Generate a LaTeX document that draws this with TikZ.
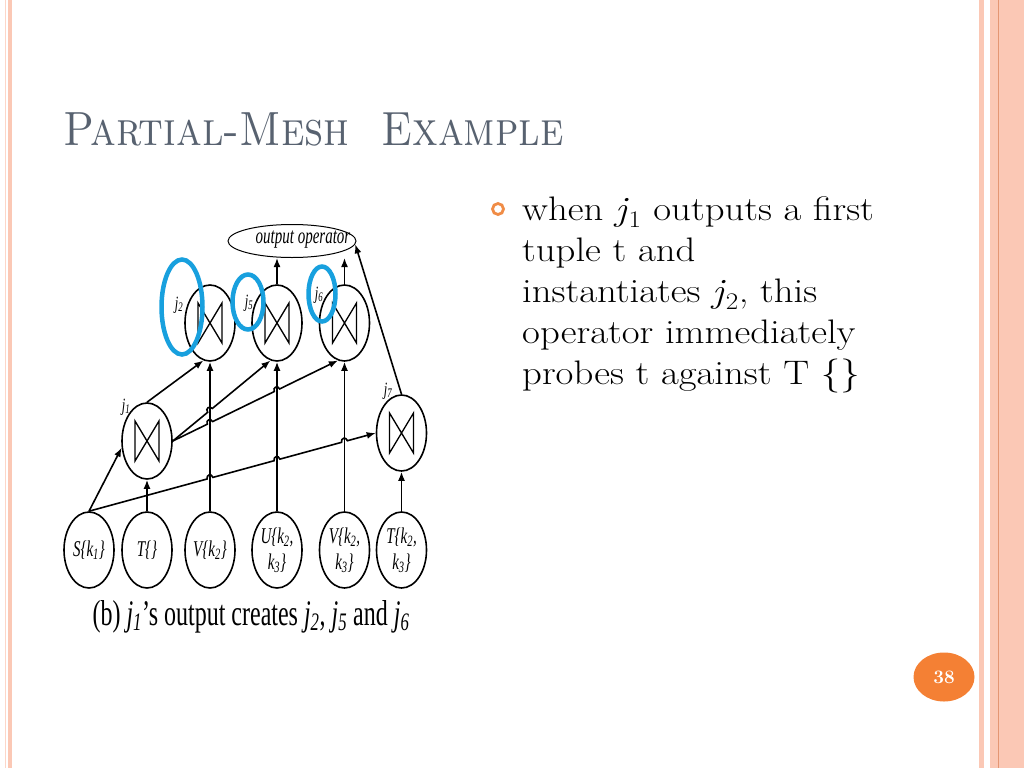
\documentclass[tikz,border=0pt]{standalone}
\usepackage{fontspec}
\newfontfamily\tnr{Liberation Serif}
\usetikzlibrary{shapes.geometric,arrows.meta,calc}
\definecolor{titlegray}{RGB}{88,98,112}
\definecolor{salm}{RGB}{251,200,181}
\definecolor{salmlight}{RGB}{252,214,200}
\definecolor{salmdark}{RGB}{228,150,115}
\definecolor{pageorange}{RGB}{244,128,52}
\definecolor{bulletorange}{RGB}{240,140,70}
\definecolor{hlblue}{RGB}{24,160,222}
\newcommand\vs[1]{\scalebox{1}[1.5]{#1}}
\newcommand\hs[1]{\scalebox{1.14}[1]{#1}}
\newcommand\hop[4]{%
  \coordinate (#1) at (intersection of #2--#3 and #4);
  \coordinate (#1a) at ($(#1)!3pt!(#2)$);
  \coordinate (#1b) at ($(#1)!3pt!(#3)$);}
\begin{document}
\begin{tikzpicture}[x=1pt,y=-1pt,
  opnode/.style={ellipse, draw, line width=1.6pt, minimum width=50pt, minimum height=76pt, inner sep=0pt},
  joinnode/.style={opnode, path picture={\draw[line width=1.3pt] ($(path picture bounding box.center)+(-12,-20)$) -- ++(0,40) -- ++(24,-40) -- ++(0,40) -- cycle;}},
  srcnode/.style={opnode, font=\tnr\itshape\fontsize{15}{26}\selectfont, align=center},
  conn/.style={line width=1.6pt, -{Latex[length=9pt,width=7pt]}},
  hopb/.style={bend left=90, looseness=1.9},
  lab/.style={font=\tnr\itshape\fontsize{12.5}{12.5}\selectfont, inner sep=0pt},
  hl/.style={ellipse, draw=hlblue, line width=4.5pt, inner sep=0pt},
  body/.style={anchor=base west, font=\fontsize{34}{41}\selectfont, inner sep=0pt},
]
\useasboundingbox (0,0) rectangle (1024,768);
\fill[white] (0,0) rectangle (1024,768);
% page borders
\draw[salmlight, line width=1pt] (5.5,0) -- (5.5,768);
\fill[salm] (8,0) rectangle (12,768);
\fill[salm] (979,0) rectangle (984,768);
\fill[salm] (990,0) rectangle (1024,768);
\draw[salmdark, line width=1pt] (998.5,0) -- (998.5,768);

% title
\node[anchor=base west, text=titlegray, inner sep=0pt, font=\fontsize{48}{48}\selectfont\scshape] (title) at (63,145) {\scalebox{0.875}[1]{Partial-Mesh\ \ Example}};

% bullet text
\node[circle, draw=bulletorange, line width=2.8pt, minimum size=11pt, inner sep=0pt] (bul) at (498,209) {};
\node[body] (l1) at (522,220) {\hs{when \textit{j}\textsubscript{1} outputs a first}};
\node[body] (l2) at (522,261) {\hs{tuple t and}};
\node[body] (l3) at (522,302) {\hs{instantiates \textit{j}\textsubscript{2}, this}};
\node[body] (l4) at (522,343) {\hs{operator immediately}};
\node[body] (l5) at (522,384) {\hs{probes t against T \{\}}};

% page number
\node[ellipse, fill=pageorange, minimum width=61pt, minimum height=49pt, inner sep=0pt, text=white, font=\fontsize{19}{19}\selectfont\bfseries] (pnum) at (944,677) {38};

% diagram nodes
\node[ellipse, draw, line width=1pt, minimum width=128pt, minimum height=33pt, inner sep=0pt] (out) at (292,241) {};
\node[font=\tnr\itshape\fontsize{15}{15}\selectfont, inner sep=0pt] (outtxt) at (303,240) {\vs{output operator}};

\node[joinnode] (j2) at (210,323) {};
\node[joinnode] (j5) at (277,323) {};
\node[joinnode] (j6) at (344.5,323) {};
\node[joinnode] (j1) at (147,441) {};
\node[joinnode] (j7) at (401.5,433) {};

\node[srcnode] (S) at (89,550) {\vs{S\{k\textsubscript{1}\}}};
\node[srcnode] (T) at (147,550) {\vs{T\{\}}};
\node[srcnode] (V2) at (210,550) {\vs{V\{k\textsubscript{2}\}}};
\node[srcnode] (U) at (277,550) {\vs{U\{k\textsubscript{2},}\\\vs{k\textsubscript{3}\}}};
\node[srcnode] (V3) at (344.5,550) {\vs{V\{k\textsubscript{2},}\\\vs{k\textsubscript{3}\}}};
\node[srcnode] (T3) at (401.5,550) {\vs{T\{k\textsubscript{2},}\\\vs{k\textsubscript{3}\}}};

\node[lab] (lj1) at (126,407) {\vs{j\textsubscript{1}}};
\node[lab] (lj7) at (388,391) {\vs{j\textsubscript{7}}};
\node[lab] (lj2) at (179,305) {\vs{j\textsubscript{2}}};
\node[lab] (lj5) at (249,303) {\vs{j\textsubscript{5}}};
\node[lab] (lj6) at (319,295) {\vs{j\textsubscript{6}}};

% hop points
\hop{ha}{S.north}{j7.west}{V2.north--j2.south}
\hop{hb}{S.north}{j7.west}{U.north--j5.south}
\hop{hc}{S.north}{j7.west}{V3.north--j6.south}
\hop{hd}{j1.east}{j5.260}{V2.north--j2.south}
\hop{he}{j1.east}{j6.260}{V2.north--j2.south}
\hop{hf}{j1.east}{j6.260}{U.north--j5.south}

% connectors
\draw[conn] (S.north) -- (haa) to[hopb] (hab) -- (hba) to[hopb] (hbb) -- (hca) to[hopb] (hcb) -- (j7.west);
\draw[conn] (j1.east) -- (hda) to[hopb] (hdb) -- (j5.260);
\draw[conn] (j1.east) -- (hea) to[hopb] (heb) -- (hfa) to[hopb] (hfb) -- (j6.260);
\draw[conn] (S.north) -- (j1.195);
\draw[conn] (T.north) -- (j1.south);
\draw[conn] (j1.north) -- (j2.260);
\draw[conn] (V2.north) -- (j2.south);
\draw[conn] (U.north) -- (j5.south);
\draw[conn] (V3.north) -- (j6.south);
\draw[conn] (T3.north) -- (j7.south);
\draw[conn] (j5.north) -- (j5.north |- out.south);
\draw[conn] (j6.north) -- (j6.north |- out.south);
\draw[conn] (j7.north) -- (out.-3);

% caption
\node[anchor=base, inner sep=0pt, font=\tnr\fontsize{24}{24}\selectfont] (cap) at (251,625) {\vs{(b) \textit{j}\textsubscript{\textit{1}}’s output creates \textit{j}\textsubscript{\textit{2}}, \textit{j}\textsubscript{\textit{5}} and \textit{j}\textsubscript{\textit{6}}}};

% highlights
\node[hl, minimum width=41pt, minimum height=95pt] (hl2) at (182,307) {};
\node[hl, minimum width=31pt, minimum height=55pt] (hl5) at (248,302) {};
\node[hl, minimum width=27pt, minimum height=55pt] (hl6) at (322,294) {};
\end{tikzpicture}
\end{document}
